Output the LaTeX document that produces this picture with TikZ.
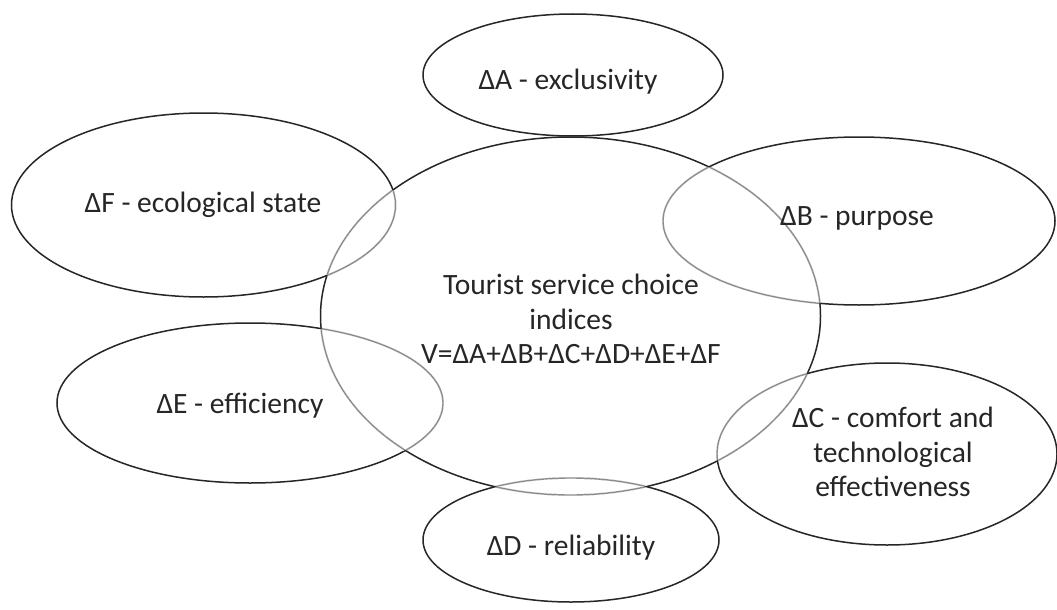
\documentclass[tikz,border=0pt]{standalone}
\usepackage{fontspec}
\setmainfont{Carlito}
\begin{document}
\begin{tikzpicture}[x=1pt,y=-1pt,
  oval/.style={draw=black!85,line width=1.5pt},
  faded/.style={draw=black!45,line width=1.4pt},
  lbl/.style={font=\fontsize{29.5}{34.5}\selectfont,text=black!85,align=center}]
\useasboundingbox[fill=white] (0,0) rectangle (1057,610);
\def\ovals{570.5/316/250/179,573/75/150/61,859/221/196/84,203.5/205/192/92,250/403/193/80,887/454/170/91,571/540/148/62}
% ellipse outlines
\foreach \x/\y/\a/\b in \ovals {
  \draw[oval] (\x,\y) ellipse [x radius=\a,y radius=\b];
}
% fade outlines where they run inside another ellipse
\foreach \x/\y/\a/\b in \ovals {
  \begin{scope}
    \clip (\x,\y) ellipse [x radius=\a-0.8,y radius=\b-0.8];
    \foreach \p/\q/\c/\d in \ovals {
      \ifdim\x pt=\p pt\relax\else
        \draw[white,line width=2.3pt] (\p,\q) ellipse [x radius=\c,y radius=\d];
        \draw[faded] (\p,\q) ellipse [x radius=\c,y radius=\d];
      \fi
    }
  \end{scope}
}
% labels
\node[lbl] (v) at (571,319) {Tourist service choice\\indices\\V=ΔA+ΔB+ΔC+ΔD+ΔE+ΔF};
\node[lbl] (a) at (568,82) {ΔA - exclusivity};
\node[lbl] (b) at (857,218) {ΔB - purpose};
\node[lbl] (f) at (203,205) {ΔF - ecological state};
\node[lbl] (e) at (240,406) {ΔE - efficiency};
\node[lbl] (c) at (893,452) {ΔC - comfort and\\technological\\effectiveness};
\node[lbl] (d) at (571,548) {ΔD - reliability};
\end{tikzpicture}
\end{document}
